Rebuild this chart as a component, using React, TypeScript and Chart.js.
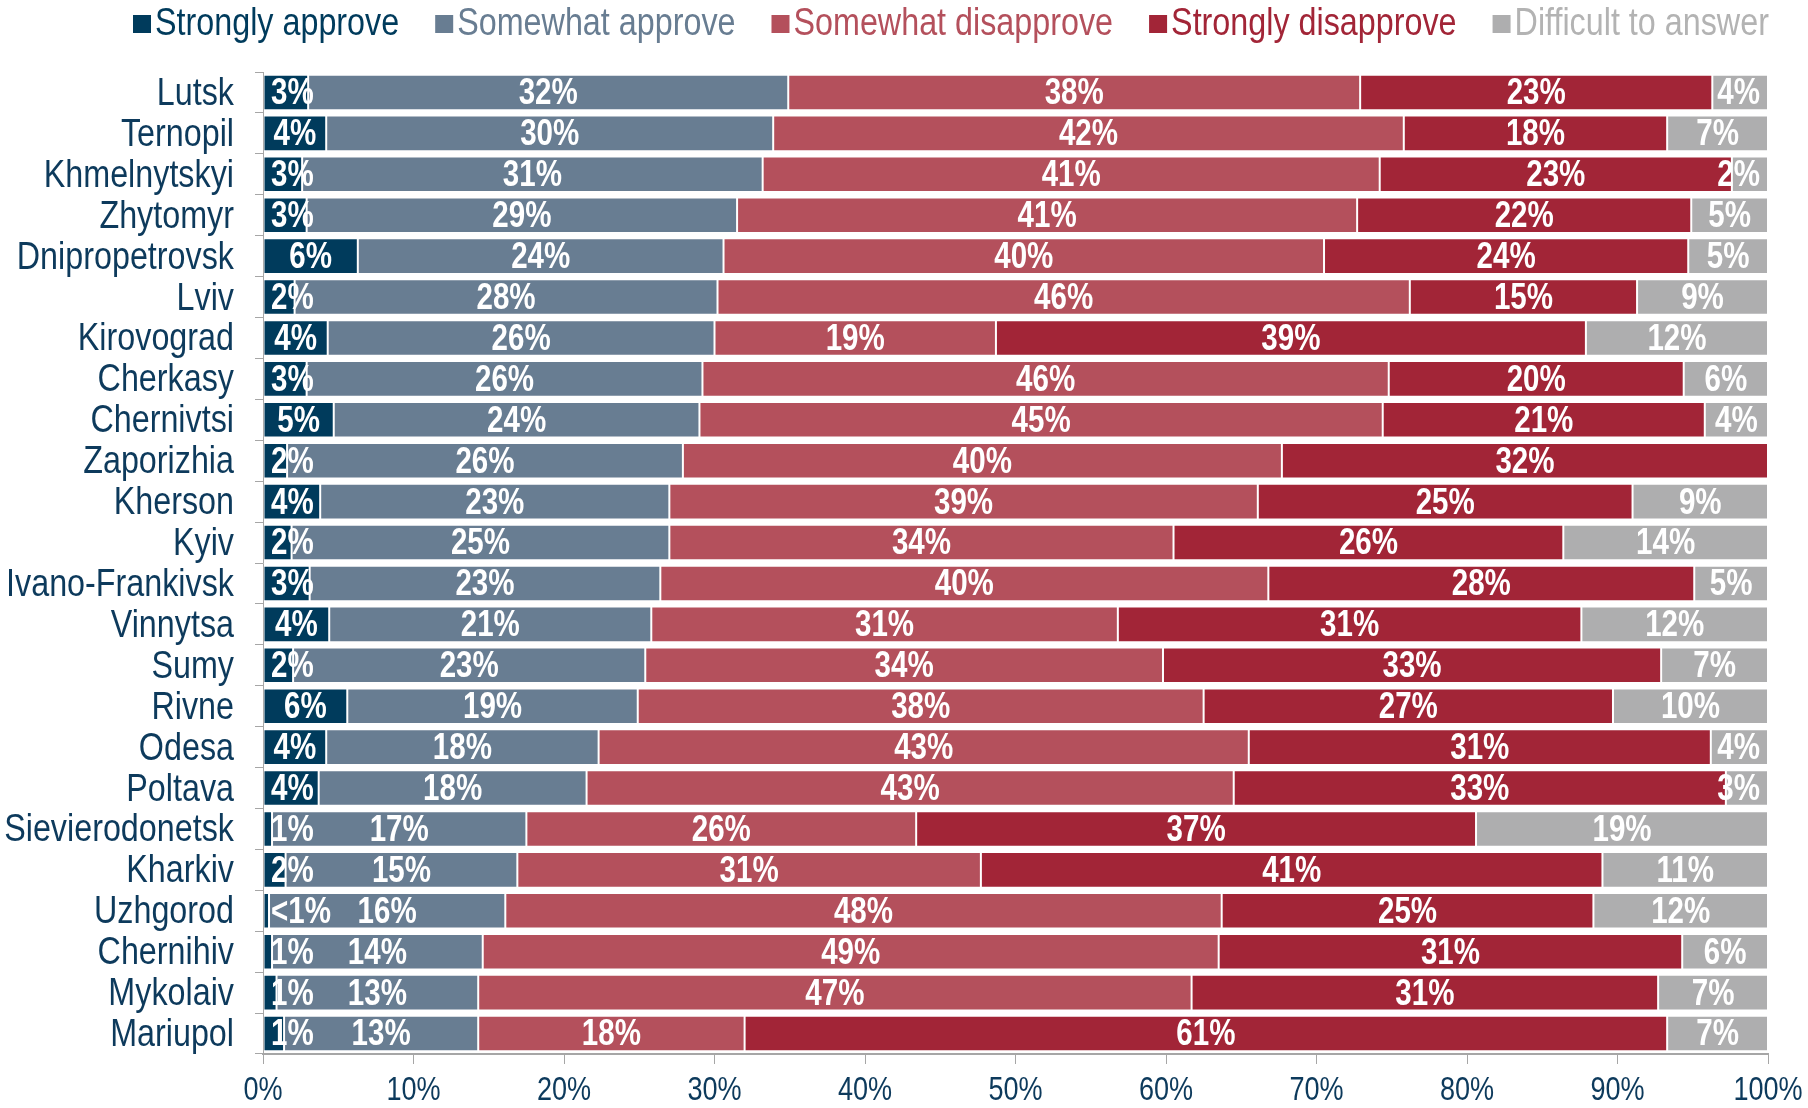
import React, { useEffect, useRef } from "react";
import { Chart, registerables } from "chart.js";

Chart.register(...registerables);

const categories = [
  "Lutsk", "Ternopil", "Khmelnytskyi", "Zhytomyr", "Dnipropetrovsk", "Lviv",
  "Kirovograd", "Cherkasy", "Chernivtsi", "Zaporizhia", "Kherson", "Kyiv",
  "Ivano-Frankivsk", "Vinnytsa", "Sumy", "Rivne", "Odesa", "Poltava",
  "Sievierodonetsk", "Kharkiv", "Uzhgorod", "Chernihiv", "Mykolaiv", "Mariupol",
];

const stronglyApprove = [3.0, 4.2, 2.6, 2.9, 6.3, 2.1, 4.3, 2.9, 4.7, 1.6, 3.8, 1.9, 3.1, 4.4, 2.0, 5.6, 4.2, 3.7, 0.6, 1.5, 0.4, 0.6, 0.9, 1.4];
const somewhatApprove = [31.9, 29.7, 30.6, 28.6, 24.3, 28.1, 25.7, 26.3, 24.3, 26.3, 23.2, 25.1, 23.3, 21.4, 23.4, 19.3, 18.1, 17.8, 16.9, 15.4, 15.7, 14.0, 13.4, 12.9];
const somewhatDisapprove = [38.0, 41.9, 41.0, 41.2, 39.9, 46.0, 18.7, 45.6, 45.4, 39.8, 39.1, 33.5, 40.4, 31.0, 34.4, 37.6, 43.2, 43.0, 25.9, 30.8, 47.6, 48.9, 47.4, 17.7];
const stronglyDisapprove = [23.4, 17.5, 23.4, 22.2, 24.2, 15.1, 39.2, 19.6, 21.4, 32.3, 24.9, 25.9, 28.3, 30.8, 33.1, 27.2, 30.7, 32.7, 37.2, 41.3, 24.7, 30.8, 31.0, 61.3];
const difficultToAnswer = [3.7, 6.7, 2.4, 5.1, 5.3, 8.7, 12.1, 5.6, 4.2, 0, 9.0, 13.6, 4.9, 12.4, 7.1, 10.3, 3.8, 2.8, 19.4, 11.0, 11.6, 5.7, 7.3, 6.7];

const seriesNames = ["Strongly approve", "Somewhat approve", "Somewhat disapprove", "Strongly disapprove", "Difficult to answer"];
const seriesColors = ["#003B5C", "#687D92", "#B4505C", "#A22537", "#AEAEAF"];
const legendTextColors = ["#003B5C", "#687D92", "#B4505C", "#A22537", "#B3B3B3"];
const xTicks = [0, 10, 20, 30, 40, 50, 60, 70, 80, 90, 100];

const FONT = "'Liberation Sans', Arial, sans-serif";
const NAVY = "#0D3A5C";
const AXIS_GRAY = "#A6A6A6";

function drawNarrow(ctx: any, text: string, x: number, y: number, align: string, font: string, color: string, sx: number) {
  ctx.save();
  ctx.font = font;
  ctx.fillStyle = color;
  ctx.textAlign = align;
  ctx.textBaseline = "middle";
  ctx.translate(x, y);
  ctx.scale(sx, 1);
  ctx.fillText(text, 0, 0);
  ctx.restore();
}

function narrowWidth(ctx: any, text: string, font: string, sx: number) {
  ctx.save();
  ctx.font = font;
  const w = ctx.measureText(text).width * sx;
  ctx.restore();
  return w;
}

const legendPlugin = {
  id: "customLegend",
  afterDraw(chart: any) {
    const ctx = chart.ctx;
    const font = `38px ${FONT}`;
    const sx = 0.85;
    let x = 133;
    const yc = 24;
    chart.data.datasets.forEach((ds: any, i: number) => {
      ctx.save();
      ctx.fillStyle = ds.backgroundColor;
      ctx.fillRect(x, yc - 9, 18, 18);
      ctx.restore();
      const tx = x + 22;
      drawNarrow(ctx, ds.label, tx, yc + 1, "left", font, legendTextColors[i], sx);
      x = tx + narrowWidth(ctx, ds.label, font, sx) + 36;
    });
  },
};

const axisLabelPlugin = {
  id: "axisLabels",
  afterDraw(chart: any) {
    const ctx = chart.ctx;
    const yScale = chart.scales.y;
    const xScale = chart.scales.x;
    const yFont = `38px ${FONT}`;
    chart.data.labels.forEach((lab: string, i: number) => {
      const y = yScale.getPixelForValue(i);
      drawNarrow(ctx, lab, yScale.right - 29, y + 2, "right", yFont, NAVY, 0.85);
    });
    const xFont = `33px ${FONT}`;
    xScale.ticks.forEach((t: any) => {
      const x = xScale.getPixelForValue(t.value);
      drawNarrow(ctx, `${t.value}%`, x, xScale.top + 37, "center", xFont, NAVY, 0.82);
    });
  },
};

const barLabelPlugin = {
  id: "barLabels",
  afterDatasetsDraw(chart: any) {
    const ctx = chart.ctx;
    const area = chart.chartArea;
    const font = `bold 36px ${FONT}`;
    const sx = 0.82;
    chart.data.datasets.forEach((ds: any, i: number) => {
      const meta = chart.getDatasetMeta(i);
      meta.data.forEach((bar: any, j: number) => {
        const v = ds.data[j];
        if (!v) return;
        const text = v < 0.5 ? "<1%" : v < 1 ? "1%" : `${Math.round(v)}%`;
        const p = bar.getProps(["x", "y", "base"], true);
        const w = narrowWidth(ctx, text, font, sx);
        let cx = (p.x + p.base) / 2;
        cx = Math.max(cx, area.left + 8 + w / 2);
        cx = Math.min(cx, area.right - 8 - w / 2);
        drawNarrow(ctx, text, cx, p.y + 2, "center", font, "#FFFFFF", sx);
      });
    });
  },
};

export default function App() {
  const ref = useRef<HTMLCanvasElement | null>(null);

  useEffect(() => {
    if (!ref.current) return;
    const seriesData = [stronglyApprove, somewhatApprove, somewhatDisapprove, stronglyDisapprove, difficultToAnswer];
    const chart = new Chart(ref.current, {
      type: "bar",
      data: {
        labels: categories,
        datasets: seriesData.map((d, i) => ({
          label: seriesNames[i],
          data: d,
          backgroundColor: seriesColors[i],
          borderColor: "rgba(255,255,255,0.3)",
          borderWidth: 1,
          borderSkipped: false,
          barPercentage: 0.87,
          categoryPercentage: 1,
        })),
      },
      options: {
        indexAxis: "y",
        responsive: false,
        animation: false,
        layout: { padding: { left: 8, right: 40, top: 72, bottom: 0 } },
        plugins: {
          legend: { display: false },
          tooltip: { enabled: false },
        },
        scales: {
          x: {
            stacked: true,
            min: 0,
            max: 100,
            afterBuildTicks(scale: any) {
              scale.ticks = xTicks.map((v) => ({ value: v }));
            },
            afterFit(scale: any) {
              scale.height = 54;
            },
            grid: {
              drawOnChartArea: false,
              drawTicks: true,
              tickLength: 10,
              color: AXIS_GRAY,
            },
            border: { display: true, color: AXIS_GRAY, width: 2 },
            ticks: { display: false },
          },
          y: {
            stacked: true,
            afterFit(scale: any) {
              scale.width = 255;
            },
            grid: {
              offset: true,
              drawOnChartArea: false,
              drawTicks: true,
              tickLength: 8,
              color: AXIS_GRAY,
            },
            border: { display: true, color: AXIS_GRAY, width: 1 },
            ticks: { display: false },
          },
        },
      },
      plugins: [legendPlugin, axisLabelPlugin, barLabelPlugin],
    } as any);
    return () => chart.destroy();
  }, []);

  return (
    <div style={{ position: "fixed", left: 0, top: 0, width: 1808, height: 1108, background: "#FFFFFF" }}>
      <canvas ref={ref} width={1808} height={1108} style={{ display: "block", width: 1808, height: 1108 }} />
    </div>
  );
}
